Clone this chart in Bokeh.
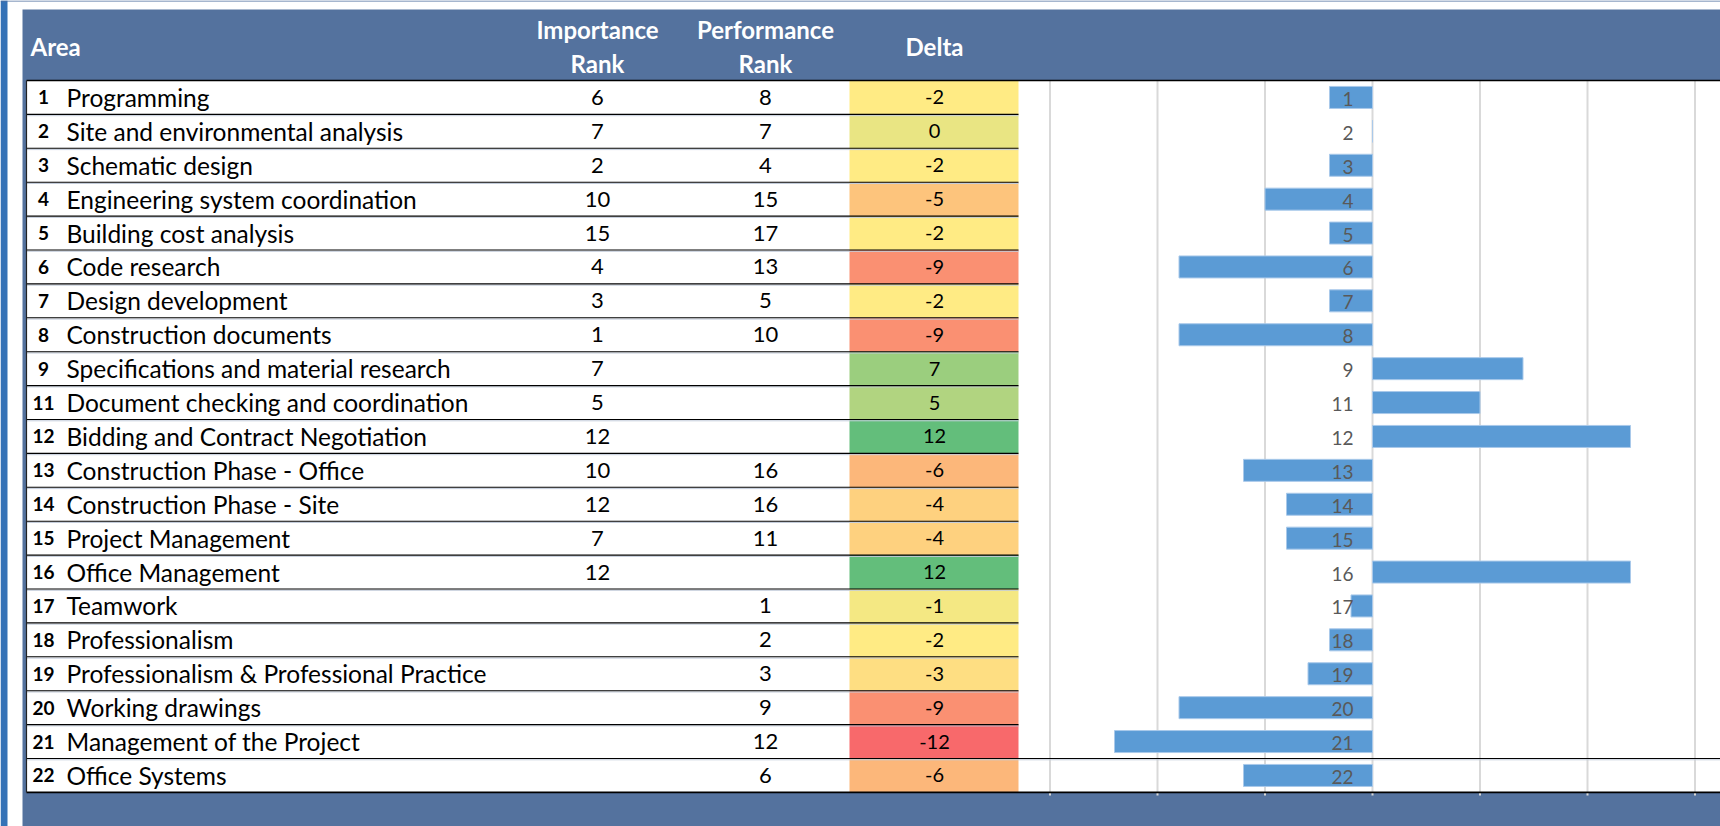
from bokeh.plotting import figure
from bokeh.models import Range1d, ColumnDataSource
from bokeh.core.properties import value
from bokeh.embed import file_html
from bokeh.resources import INLINE

# ---------------- data ----------------
area_ids = [1, 2, 3, 4, 5, 6, 7, 8, 9, 11, 12, 13, 14, 15, 16, 17, 18, 19, 20, 21, 22]
areas = [
    "Programming", "Site and environmental analysis", "Schematic design",
    "Engineering system coordination", "Building cost analysis", "Code research",
    "Design development", "Construction documents", "Specifications and material research",
    "Document checking and coordination", "Bidding and Contract Negotiation",
    "Construction Phase - Office", "Construction Phase - Site", "Project Management",
    "Office Management", "Teamwork", "Professionalism",
    "Professionalism & Professional Practice", "Working drawings",
    "Management of the Project", "Office Systems",
]
importance_rank = [6, 7, 2, 10, 15, 4, 3, 1, 7, 5, 12, 10, 12, 7, 12, None, None, None, None, None, None]
performance_rank = [8, 7, 4, 15, 17, 13, 5, 10, None, None, None, 16, 16, 11, None, 1, 2, 3, 9, 12, 6]
delta = [-2, 0, -2, -5, -2, -9, -2, -9, 7, 5, 12, -6, -4, -4, 12, -1, -2, -3, -9, -12, -6]
header_labels = ["Area", "Importance\nRank", "Performance\nRank", "Delta"]
grid_ticks = [-15, -10, -5, 0, 5, 10, 15]

# ---------------- layout (page pixel coordinates) ----------------
W, H = 1720, 826
HEAD_TOP, ROW_TOP, ROW_H = 9, 80, 33.9
N = len(areas)
TABLE_BOTTOM = ROW_TOP + N * ROW_H
STRIP_R, PANEL_L, TABLE_L = 7, 22, 26
COL_NUM_X, COL_NAME_X = 43, 66
COL_IMP_X, COL_PERF_X, COL_DELTA_X = 597, 765, 934
DELTA_L, DELTA_R = 849, 1018
ZERO_X, PX_PER_UNIT = 1372, 21.5
BAR_H = 22

FONT = value("Lato")
BLUE = "#54729E"

p = figure(width=W, height=H, output_backend="svg", toolbar_location=None,
           x_range=Range1d(0, W), y_range=Range1d(H, 0),
           x_axis_location=None, y_axis_location=None, min_border=0,
           background_fill_color="white", border_fill_color="white")
p.grid.visible = False
p.outline_line_color = None
p.extra_x_ranges = {"delta": Range1d((0 - ZERO_X) / PX_PER_UNIT, (W - ZERO_X) / PX_PER_UNIT)}


def lerp(c1, c2, t):
    return "#%02X%02X%02X" % tuple(int(round(a + (b - a) * t)) for a, b in zip(c1, c2))


RED, YEL, GRN = (248, 105, 107), (255, 235, 132), (99, 190, 123)
srt = sorted(delta)
mid = srt[len(srt) // 2]
lo, hi = min(delta), max(delta)


def scale_color(v):
    if v <= mid:
        return lerp(RED, YEL, (v - lo) / (mid - lo))
    return lerp(YEL, GRN, (v - mid) / (hi - mid))


tops = [ROW_TOP + i * ROW_H for i in range(N)]
bots = [t + ROW_H for t in tops]
centers = [t + ROW_H / 2 for t in tops]

src = ColumnDataSource(dict(
    top=tops, bottom=bots, center=centers,
    num=[str(a) for a in area_ids], name=areas,
    imp=["" if v is None else str(v) for v in importance_rank],
    perf=["" if v is None else str(v) for v in performance_rank],
    delta=delta, dtxt=[str(d) for d in delta],
    color=[scale_color(d) for d in delta],
    zero=[0] * N, label=[str(a) for a in area_ids],
    lcenter=[c + 1.5 for c in centers],
))

# outer frame, panel & table background
p.quad(left=0, right=STRIP_R, top=0, bottom=H, fill_color="#3572B6", line_color=None)
p.quad(left=0, right=W, top=0, bottom=1, fill_color="#4F6F9E", line_color=None)
p.quad(left=PANEL_L, right=W, top=HEAD_TOP, bottom=H, fill_color=BLUE, line_color=None)
p.quad(left=TABLE_L, right=W, top=ROW_TOP, bottom=TABLE_BOTTOM, fill_color="white", line_color=None)

# delta cells
p.quad(left=DELTA_L, right=DELTA_R, top="top", bottom="bottom", fill_color="color", line_color=None, source=src)

# chart gridlines
p.segment(x0=grid_ticks, x1=grid_ticks, y0=[ROW_TOP] * len(grid_ticks), y1=[TABLE_BOTTOM + 3] * len(grid_ticks),
          line_color="#D9D9D9", line_width=2, x_range_name="delta")

# bars
p.hbar(y="center", left="zero", right="delta", height=BAR_H, source=src, x_range_name="delta",
       fill_color="#5B9BD5", line_color="#A9C9EA", line_width=1)

# row separator lines
sep_y = [ROW_TOP + k * ROW_H for k in range(1, N)]
sep_x1 = [W if k == N - 1 else DELTA_R for k in range(1, N)]
p.segment(x0=[TABLE_L] * len(sep_y), x1=sep_x1, y0=[y + 1.3 for y in sep_y], y1=[y + 1.3 for y in sep_y],
          line_color="#C3CCDA", line_width=1)
p.segment(x0=[TABLE_L] * len(sep_y), x1=sep_x1, y0=sep_y, y1=sep_y, line_color="black", line_width=1.1)
p.segment(x0=[TABLE_L, TABLE_L], x1=[W, W], y0=[ROW_TOP, TABLE_BOTTOM], y1=[ROW_TOP, TABLE_BOTTOM],
          line_color="black", line_width=1.6)
p.segment(x0=[TABLE_L], x1=[TABLE_L], y0=[ROW_TOP], y1=[TABLE_BOTTOM], line_color="#222222", line_width=1.2)

# header text
head_x = [30, COL_IMP_X, COL_PERF_X, COL_DELTA_X]
head_align = ["left", "center", "center", "center"]
hx, hy, ht, ha = [], [], [], []
for lab, x, al in zip(header_labels, head_x, head_align):
    lines = lab.split("\n")
    ys = [46] if len(lines) == 1 else [29, 63]
    for ln, yy in zip(lines, ys):
        hx.append(x); hy.append(yy); ht.append(ln); ha.append(al)
p.text(x=hx, y=hy, text=ht, text_align=ha, text_baseline="middle", text_color="white",
       text_font=FONT, text_font_style="bold", text_font_size="24px")

# table text
p.text(x=COL_NUM_X, y="center", text="num", source=src, text_align="center", text_baseline="middle",
       text_font=FONT, text_font_style="bold", text_font_size="19px", text_color="black")
p.text(x=COL_NAME_X, y="center", text="name", source=src, text_align="left", text_baseline="middle",
       text_font=FONT, text_font_size="24.5px", text_color="black")
p.text(x=COL_IMP_X, y="center", text="imp", source=src, text_align="center", text_baseline="middle",
       text_font=FONT, text_font_size="22px", text_color="black")
p.text(x=COL_PERF_X, y="center", text="perf", source=src, text_align="center", text_baseline="middle",
       text_font=FONT, text_font_size="22px", text_color="black")
p.text(x=COL_DELTA_X, y="center", text="dtxt", source=src, text_align="center", text_baseline="middle",
       text_font=FONT, text_font_size="20px", text_color="black")

# bar labels
p.text(x="zero", y="lcenter", text="label", source=src, x_range_name="delta", x_offset=-19,
       text_align="right", text_baseline="middle", text_font=FONT, text_font_size="19px",
       text_color="#595959")

open("out.html", "w").write(file_html(p, INLINE))
